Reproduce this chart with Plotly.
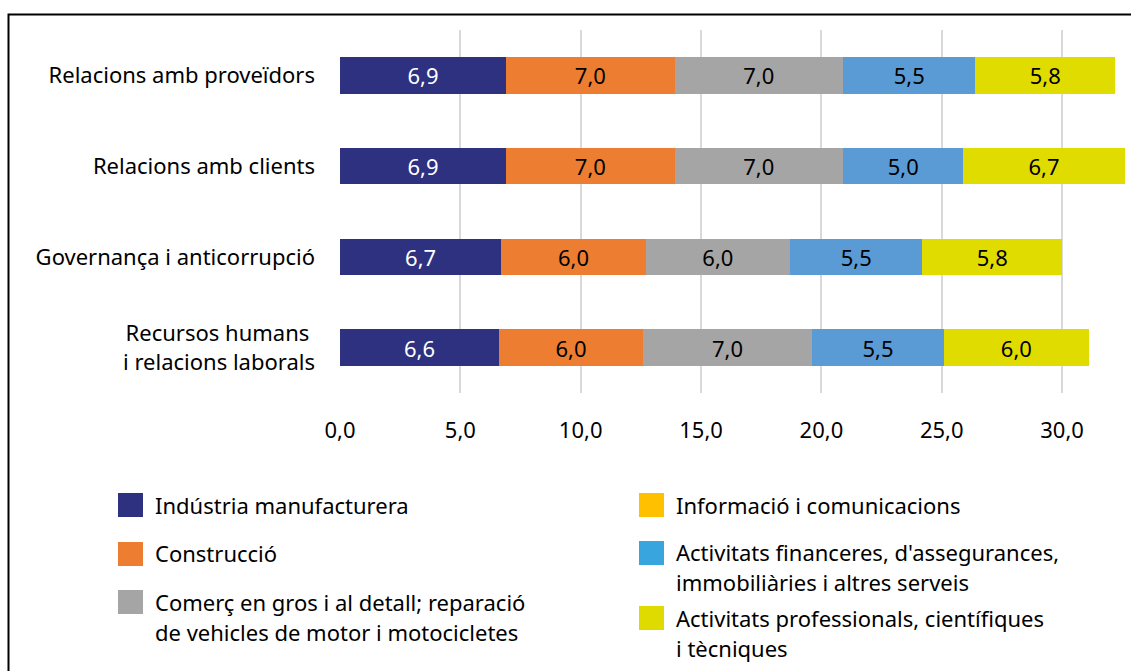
import plotly.graph_objects as go

# Categories (top to bottom)
categories = [
    "Relacions amb proveïdors",
    "Relacions amb clients",
    "Governança i anticorrupció",
    "Recursos humans\u00a0<br>i relacions laborals",
]

# Series names (legend text, <br> marks a line break)
series_names = [
    "Indústria manufacturera",
    "Construcció",
    "Comerç en gros i al detall; reparació<br>de vehicles de motor i motocicletes",
    "Informació i comunicacions",
    "Activitats financeres, d'assegurances,<br>immobiliàries i altres serveis",
    "Activitats professionals, científiques<br>i tècniques",
]

# Values per series, one per category
industria = [6.9, 6.9, 6.7, 6.6]
construccio = [7.0, 7.0, 6.0, 6.0]
comerc = [7.0, 7.0, 6.0, 7.0]
informacio = [None, None, None, None]
financeres = [5.5, 5.0, 5.5, 5.5]
professionals = [5.8, 6.7, 5.8, 6.0]
series_values = [industria, construccio, comerc, informacio, financeres, professionals]

x_ticks = [0, 5, 10, 15, 20, 25, 30]

bar_colors = ["#2E3080", "#ED7D31", "#A5A5A5", "#FFC000", "#5B9BD5", "#E0DC00"]
legend_colors = ["#2E3080", "#ED7D31", "#A5A5A5", "#FFC000", "#38A5DE", "#DFDB00"]
label_colors = ["white", "black", "black", "black", "black", "black"]

FONT = "Noto Sans"
FS = 22
W, H = 1131, 671
ML, MR, MT, MB = 340, 0, 30, 278
PW, PH = W - ML - MR, H - MT - MB


def px_x(x):
    return (x - ML) / PW


def px_y(y):
    return (H - MB - y) / PH


fig = go.Figure()
for name, vals, col, tcol in zip(series_names, series_values, bar_colors, label_colors):
    fig.add_trace(go.Bar(
        y=categories,
        x=vals,
        orientation="h",
        name=name.replace("<br>", " "),
        marker=dict(color=col, line=dict(width=0)),
        texttemplate="%{x:.1f}",
        textposition="inside",
        insidetextanchor="middle",
        textangle=0,
        constraintext="none",
        insidetextfont=dict(family=FONT, size=FS, color=tcol),
        showlegend=False,
    ))

# Legend drawn as two columns of swatches and text
legend_layout = [
    # (swatch left px, swatch top px, text left px, first line centre px)
    (118, 493, 153, 505),
    (118, 542, 153, 553),
    (118, 590, 153, 602),
    (639, 493, 674, 505),
    (639, 541, 674, 552),
    (639, 606, 674, 618),
]
shapes = []
annotations = []
line_step = 30
for name, col, (sx, sy, tx, ty) in zip(series_names, legend_colors, legend_layout):
    shapes.append(dict(
        type="rect", xref="paper", yref="paper",
        x0=px_x(sx), x1=px_x(sx + 25), y0=px_y(sy), y1=px_y(sy + 24),
        fillcolor=col, line=dict(width=0),
    ))
    for i, line in enumerate(name.split("<br>")):
        annotations.append(dict(
            xref="paper", yref="paper", x=px_x(tx), y=px_y(ty + i * line_step),
            xanchor="left", yanchor="middle", showarrow=False, text=line,
            font=dict(family=FONT, size=FS, color="black"),
        ))

# Outer frame
shapes.append(dict(
    type="rect", xref="paper", yref="paper",
    x0=px_x(8.5), x1=px_x(W + 20), y0=px_y(14.5), y1=px_y(H + 20),
    line=dict(color="black", width=2), fillcolor="rgba(0,0,0,0)",
))

fig.update_layout(
    barmode="stack",
    bargap=0.6,
    width=W, height=H,
    margin=dict(l=ML, r=MR, t=MT, b=MB, pad=0),
    paper_bgcolor="white",
    plot_bgcolor="white",
    separators=",.",
    font=dict(family=FONT, size=FS, color="black"),
    shapes=shapes,
    annotations=annotations,
    xaxis=dict(
        range=[0, PW / 24.07],
        tickvals=x_ticks,
        tickformat=".1f",
        showgrid=True, gridcolor="#D9D9D9", gridwidth=2,
        zeroline=False, showline=False, ticks="",
        ticklabelstandoff=22,
        tickfont=dict(family=FONT, size=FS, color="black"),
    ),
    yaxis=dict(
        autorange="reversed",
        showgrid=False, zeroline=False, showline=False, ticks="",
        ticklabelstandoff=24,
        tickfont=dict(family=FONT, size=FS, color="black"),
    ),
)

fig.write_html("out.html")
